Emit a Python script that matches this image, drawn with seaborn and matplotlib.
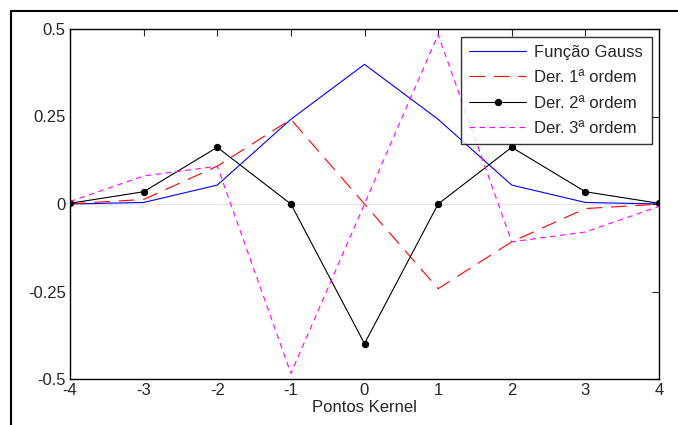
import matplotlib
matplotlib.use("Agg")
import matplotlib.pyplot as plt
import seaborn as sns
import pandas as pd

sns.set_style("white")
plt.rcParams["font.family"] = ["Liberation Sans", "DejaVu Sans"]
plt.rcParams["axes.unicode_minus"] = False

# Pontos do kernel e valores
x = [-4, -3, -2, -1, 0, 1, 2, 3, 4]
gauss = [0.0001, 0.0044, 0.054, 0.242, 0.399, 0.242, 0.054, 0.0044, 0.0001]
der1 = [0.0005, 0.013, 0.108, 0.242, 0.0, -0.242, -0.108, -0.013, -0.0005]
der2 = [0.002, 0.035, 0.162, 0.0, -0.399, 0.0, 0.162, 0.035, 0.002]
der3 = [0.007, 0.080, 0.108, -0.484, 0.0, 0.484, -0.108, -0.080, -0.007]

df = pd.DataFrame({"x": x, "g": gauss, "d1": der1, "d2": der2, "d3": der3})

fig = plt.figure(figsize=(6.78, 4.25), dpi=100)
ax = fig.add_axes([70/678, 1-379/425, 589/678, 350/425])

# moldura da figura
fig.patches.append(plt.Rectangle((11/678, -0.1), 1.2, 1-11/425+0.1,
                                 transform=fig.transFigure, fill=False,
                                 edgecolor="black", linewidth=1.5))

ax.axhline(0, color="#e6e6e6", linewidth=0.8, zorder=0)

sns.lineplot(data=df, x="x", y="g", ax=ax, color="blue", linewidth=0.8,
             label="Função Gauss")
sns.lineplot(data=df, x="x", y="d1", ax=ax, color="red", linewidth=0.8,
             dashes=False, label="Der. 1ª ordem")
ax.lines[-1].set_dashes([14, 8])
sns.lineplot(data=df, x="x", y="d2", ax=ax, color="black", linewidth=0.8,
             marker="o", markersize=4.5, markeredgecolor="black",
             label="Der. 2ª ordem")
sns.lineplot(data=df, x="x", y="d3", ax=ax, color="magenta", linewidth=0.8,
             label="Der. 3ª ordem")
ax.lines[-1].set_dashes([5, 4])

ax.set_xlim(-4, 4)
ax.set_ylim(-0.5, 0.5)
ax.set_xticks(x)
ax.set_xticklabels([str(v) for v in x])
ax.set_yticks([-0.5, -0.25, 0, 0.25, 0.5])
ax.set_yticklabels(["-0.5", "-0.25", "0", "0.25", "0.5"])
ax.tick_params(direction="in", top=True, right=True, length=5, width=0.8,
               labelsize=12, pad=3)
for s in ax.spines.values():
    s.set_visible(True)
    s.set_color("black")
    s.set_linewidth(1.0)

ax.set_xlabel("Pontos Kernel", fontsize=12, labelpad=1)
ax.set_ylabel("")

leg = ax.legend(loc="upper right", fontsize=12, frameon=True, fancybox=False,
                edgecolor="black", borderaxespad=0.45, handlelength=3.4,
                labelspacing=0.62, borderpad=0.5, handletextpad=0.5)
leg.get_frame().set_linewidth(1.0)

fig.savefig("out.png", dpi=100)
